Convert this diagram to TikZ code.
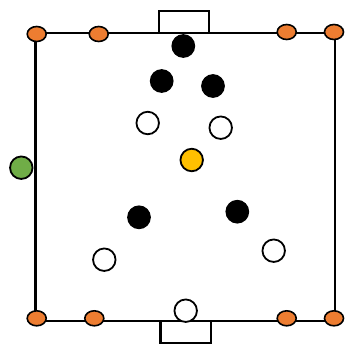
\documentclass[tikz,border=0pt]{standalone}
\usetikzlibrary{shapes.geometric}
\definecolor{conecol}{HTML}{ED7D31}
\definecolor{greencol}{HTML}{70AD47}
\definecolor{ballcol}{HTML}{FFC000}
\tikzset{
  field/.style={draw=black, line width=2.5pt},
  goal/.style={draw=black, line width=2.2pt, fill=white},
  cone/.style={ellipse, draw=black, line width=1.6pt, fill=conecol, minimum width=19pt, minimum height=15pt, inner sep=0pt},
  blackp/.style={circle, fill=black, draw=black, line width=1.2pt, minimum size=22.5pt, inner sep=0pt},
  whitep/.style={circle, fill=white, draw=black, line width=1.8pt, minimum size=22.5pt, inner sep=0pt},
  ballp/.style={circle, fill=ballcol, draw=black, line width=1.8pt, minimum size=22.5pt, inner sep=0pt},
  greenp/.style={circle, fill=greencol, draw=black, line width=1.8pt, minimum size=22.5pt, inner sep=0pt}
}
\begin{document}
\begin{tikzpicture}[x=1pt,y=-1pt]
\useasboundingbox (0,0) rectangle (345,345);
% goals
\draw[goal] (159,11) rectangle (209,33);
\draw[goal] (160.5,321) rectangle (211,343);
% field
\draw[field] (35.5,33) rectangle (335,321);
% cones
\node[cone] (c1) at (36.7,34) {};
\node[cone] (c2) at (98.7,34) {};
\node[cone] (c3) at (286.7,32) {};
\node[cone] (c4) at (334,32) {};
\node[cone] (c5) at (36.7,318.3) {};
\node[cone] (c6) at (94.3,318.3) {};
\node[cone] (c7) at (286.7,318.3) {};
\node[cone] (c8) at (334,318.3) {};
% green player
\node[greenp] (g) at (21.3,167.7) {};
% black players
\node[blackp] (b1) at (183.3,46) {};
\node[blackp] (b2) at (161.7,81) {};
\node[blackp] (b3) at (213,86) {};
\node[blackp] (b4) at (139,217.3) {};
\node[blackp] (b5) at (237.3,211.7) {};
% white players
\node[whitep] (w1) at (147.7,123) {};
\node[whitep] (w2) at (220.7,127.7) {};
\node[whitep] (w3) at (104.3,259.7) {};
\node[whitep] (w4) at (273.7,250.7) {};
\node[whitep] (w5) at (185.7,310.7) {};
% ball
\node[ballp] (ball) at (191.7,160) {};
\end{tikzpicture}
\end{document}
